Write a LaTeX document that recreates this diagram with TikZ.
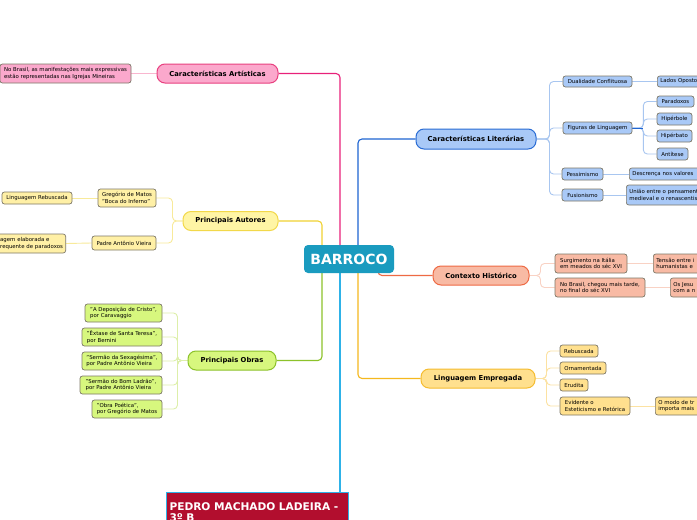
\documentclass[tikz,border=0pt]{standalone}
\usepackage{fontspec}
\setmainfont{DejaVu Sans}
\usetikzlibrary{calc}
\pgfdeclarelayer{bg}
\pgfsetlayers{bg,main}
\definecolor{barc}{HTML}{1A9BBF}
\definecolor{pkL}{HTML}{E8217A}
\definecolor{pkF}{HTML}{FBA8CC}
\definecolor{pkB}{HTML}{E8407F}
\definecolor{pkS}{HTML}{F9B6CF}
\definecolor{ylL}{HTML}{F0D232}
\definecolor{ylF}{HTML}{FFF5A5}
\definecolor{ylB}{HTML}{F2D84A}
\definecolor{ylS}{HTML}{F8EA9A}
\definecolor{ylLeaf}{HTML}{FFF0A6}
\definecolor{grL}{HTML}{8CC22A}
\definecolor{grF}{HTML}{D7F77E}
\definecolor{grS}{HTML}{DDEFAA}
\definecolor{blL}{HTML}{1E64D2}
\definecolor{blF}{HTML}{A9C9F7}
\definecolor{blB}{HTML}{2A6CD4}
\definecolor{blS}{HTML}{A8C6F0}
\definecolor{rdL}{HTML}{EE6A44}
\definecolor{rdF}{HTML}{F8BAA4}
\definecolor{rdS}{HTML}{F9D2C4}
\definecolor{orL}{HTML}{F5B81E}
\definecolor{orF}{HTML}{FFE08E}
\definecolor{orB}{HTML}{F5BC30}
\definecolor{orS}{HTML}{FCE2A2}
\definecolor{ltbl}{HTML}{2EB2E8}
\definecolor{pedroF}{HTML}{B20E2E}
\definecolor{leafB}{HTML}{7D7868}
\begin{document}
\begin{tikzpicture}[x=1pt,y=-1pt,
  topic/.style={rounded corners=8pt, line width=1pt, inner sep=0pt, minimum height=19pt,
    font=\fontsize{6.8}{7.5}\selectfont\bfseries},
  leaf/.style={rounded corners=2.5pt, draw=leafB, line width=0.7pt, inner sep=0pt,
    align=left, font=\fontsize{5.4}{6.4}\selectfont},
  cutleaf/.style={leaf, anchor=west, inner xsep=3pt, text width=80pt},
  mainline/.style={line width=1.1pt, rounded corners=4pt},
  subline/.style={line width=0.9pt, rounded corners=4pt}]
\useasboundingbox (0,0) rectangle (697,520);
\clip (0,0) rectangle (697,520);

% central
\node[fill=barc, rounded corners=4pt, minimum width=90pt, minimum height=28pt, inner sep=0pt,
  text=white, font=\fontsize{14}{16}\selectfont\bfseries] (bar) at (349,259) {BARROCO};

% main topics
\node[topic, fill=pkF, draw=pkB, minimum width=121pt] (ca) at (217.5,73.5) {Características Artísticas};
\node[topic, fill=ylF, draw=ylB, minimum width=95pt] (pa) at (230.5,221) {Principais Autores};
\node[topic, fill=grF, draw=grL, minimum width=88pt] (po) at (232,360.5) {Principais Obras};
\node[topic, fill=blF, draw=blB, minimum width=120pt, minimum height=20pt] (cl) at (476,139) {Características Literárias};
\node[topic, fill=rdF, draw=rdL, minimum width=96pt] (ch) at (481,275.5) {Contexto Histórico};
\node[topic, fill=orF, draw=orB, minimum width=114pt] (le) at (478,378.5) {Linguagem Empregada};
\node[fill=pedroF, draw=ltbl, line width=1pt, anchor=north west, minimum width=182pt, minimum height=40pt,
  inner sep=3pt, text width=176pt, align=left, text=white,
  font=\fontsize{10.6}{10.8}\selectfont\bfseries] (pedro) at (166,492) {PEDRO MACHADO LADEIRA -\\3º B};

% pink leaf
\node[leaf, fill=pkF, minimum width=131pt, minimum height=19pt] (note1) at (65.5,73.5)
  {No Brasil, as manifestações mais expressivas\\estão representadas nas Igrejas Mineiras};

% yellow leaves
\node[leaf, fill=ylLeaf, minimum width=58pt, minimum height=18pt] (greg) at (127,198) {Gregório de Matos\\"Boca do Inferno"};
\node[leaf, fill=ylLeaf, minimum width=64pt, minimum height=14pt] (padre) at (124,243) {Padre Antônio Vieira};
\node[leaf, fill=ylLeaf, minimum width=70pt, minimum height=12pt] (lr) at (37,198) {Linguagem Rebuscada};
\node[leaf, fill=ylLeaf, anchor=east, minimum height=19pt, inner xsep=0pt, text width=86pt] (lep) at (66,243.5)
  {\hspace*{20.5pt}agem elaborada e\\\hspace*{20.5pt}requente de paradoxos};

% green leaves
\node[leaf, fill=grF, minimum width=77pt, minimum height=18pt] (w1) at (123.5,313) {"A Deposição de Cristo",\\por Caravaggio};
\node[leaf, fill=grF, minimum width=80pt, minimum height=18pt] (w2) at (122,337) {"Êxtase de Santa Teresa",\\por Bernini};
\node[leaf, fill=grF, minimum width=80pt, minimum height=18pt] (w3) at (122,361) {"Sermão da Sexagésima",\\por Padre Antônio Vieira};
\node[leaf, fill=grF, minimum width=82pt, minimum height=18pt] (w4) at (121,385) {"Sermão do Bom Ladrão",\\por Padre Antônio Vieira};
\node[leaf, fill=grF, minimum width=70pt, minimum height=18pt] (w5) at (127,409) {"Obra Poética",\\por Gregório de Matos};

% blue leaves
\node[leaf, fill=blF, minimum width=69pt, minimum height=11pt] (dc) at (597.5,81.5) {Dualidade Conflituosa};
\node[cutleaf, fill=blF, minimum height=11pt] (lo) at (657,81.5) {Lados Opostos};
\node[leaf, fill=blF, minimum width=69pt, minimum height=12pt] (fl) at (597.5,128) {Figuras de Linguagem};
\node[leaf, fill=blF, minimum width=37pt, minimum height=11pt] (par) at (675.5,101.5) {Paradoxos};
\node[leaf, fill=blF, minimum width=35pt, minimum height=12pt] (hipb) at (674.5,119) {Hipérbole};
\node[leaf, fill=blF, minimum width=35pt, minimum height=12pt] (hipt) at (674.5,136) {Hipérbato};
\node[leaf, fill=blF, minimum width=31pt, minimum height=12pt] (ant) at (672.5,154) {Antítese};
\node[leaf, fill=blF, minimum width=41pt, minimum height=12pt] (pes) at (582.5,174) {Pessimismo};
\node[cutleaf, fill=blF, minimum height=12pt] (desc) at (629,174) {Descrença nos valores};
\node[leaf, fill=blF, minimum width=41pt, minimum height=12pt] (fus) at (582.5,195) {Fusionismo};
\node[cutleaf, fill=blF, minimum height=20pt, text width=100pt] (uni) at (626,195) {União entre o pensamento\\medieval e o renascentista};

% salmon leaves
\node[leaf, fill=rdF, minimum width=72pt, minimum height=19pt] (surg) at (591,263.5) {Surgimento na Itália\\em meados do séc XVI};
\node[cutleaf, fill=rdF, minimum height=19pt] (tens) at (653,263.5) {Tensão entre i\\humanistas e};
\node[leaf, fill=rdF, minimum width=90pt, minimum height=19pt] (nob) at (600,287.5) {No Brasil, chegou mais tarde,\\no final do séc XVI};
\node[cutleaf, fill=rdF, minimum height=19pt] (jes) at (670,287.5) {Os Jesu\\com a n};

% orange leaves
\node[leaf, fill=orF, minimum width=38pt, minimum height=12pt] (reb) at (579,351) {Rebuscada};
\node[leaf, fill=orF, minimum width=46pt, minimum height=12pt] (orn) at (583,368) {Ornamentada};
\node[leaf, fill=orF, minimum width=28pt, minimum height=12pt] (eru) at (574,385) {Erudita};
\node[leaf, fill=orF, minimum width=70pt, minimum height=18pt] (evi) at (595,406) {Evidente o\\Esteticismo e Retórica};
\node[cutleaf, fill=orF, minimum height=18pt] (modo) at (655,406) {O modo de tr\\importa mais};

\coordinate (bl) at ([xshift=-9pt]bar.center);

\begin{pgfonlayer}{bg}
\fill[white] (0,0) rectangle (697,520);
% main connectors
\draw[mainline, pkL] (bl) |- (ca.east);
\draw[mainline, ylL] ([xshift=-27pt]bar.center) |- (pa.east);
\draw[mainline, grL] ([xshift=-27pt]bar.center) |- (po.east);
\draw[mainline, blL] ([xshift=9pt]bar.center) |- (cl.west);
\draw[mainline, orL] ([xshift=9pt]bar.center) |- (le.west);
\draw[mainline, rdL] ([xshift=29pt]bar.center) |- (ch.west);
\draw[mainline, ltbl] (bl) -- (bl |- pedro.north);

% secondary
\draw[subline, pkS] (ca.west) -- (note1.east);
\foreach \n in {greg,padre} \draw[subline, ylS] (pa.west) -- ++(-10,0) |- (\n.east);
\draw[subline, ylS] (greg.west) -- (lr.east);
\draw[subline, ylS] (padre.west) -- (lep.east);
\foreach \n in {w1,w2,w3,w4,w5} \draw[subline, grS] (po.west) -- ++(-10,0) |- (\n.east);
\foreach \n in {dc,fl,pes,fus} \draw[subline, blS] (cl.east) -- ++(13,0) |- (\n.west);
\draw[subline, blS] (dc.east) -- (lo.west);
\foreach \n in {par,hipb,hipt,ant} \draw[subline, blS] (fl.east) -- ++(11,0) |- (\n.west);
\draw[subline, blL] (fl.east) -- ++(11,0);
\draw[subline, blS] (pes.east) -- (desc.west);
\draw[subline, blS] (fus.east) -- (uni.west);
\foreach \n in {surg,nob} \draw[subline, rdS] (ch.east) -- ++(11,0) |- (\n.west);
\draw[subline, rdS] (surg.east) -- (tens.west);
\draw[subline, rdS] (nob.east) -- (jes.west);
\foreach \n in {reb,orn,eru,evi} \draw[subline, orS] (le.east) -- ++(11,0) |- (\n.west);
\draw[subline, orS] (evi.east) -- (modo.west);
\end{pgfonlayer}
\end{tikzpicture}
\end{document}
